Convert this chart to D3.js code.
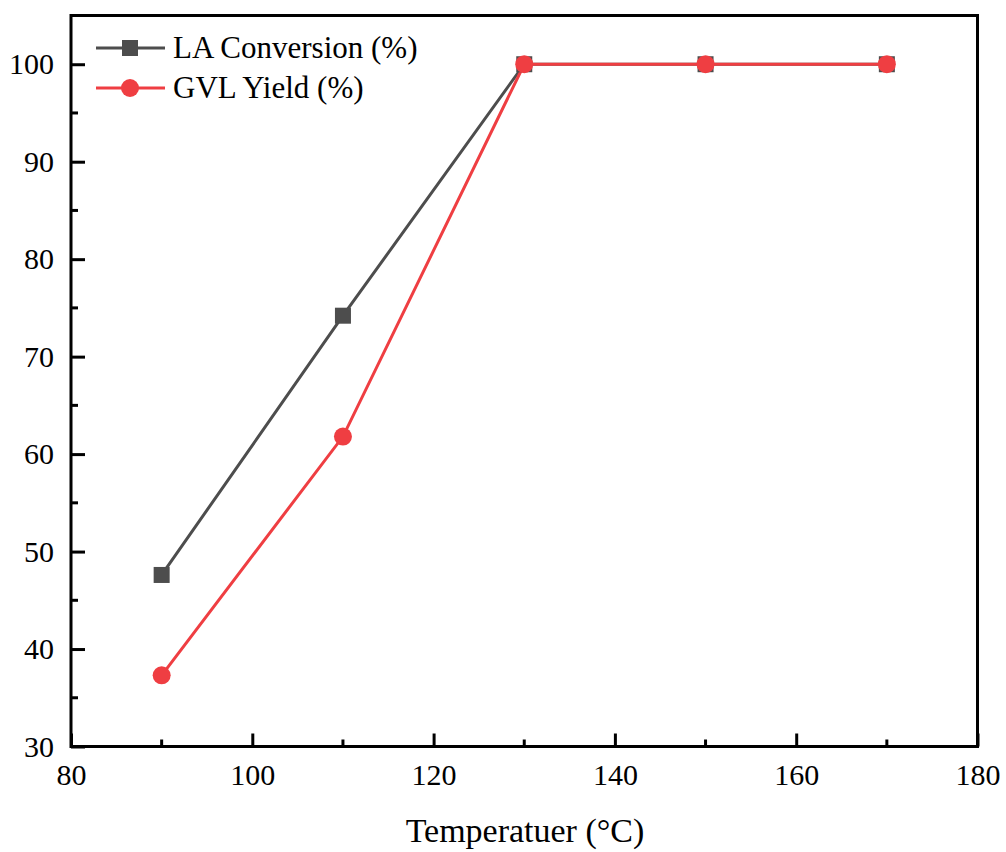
<!DOCTYPE html>
<html><head><meta charset="utf-8">
<script src="https://cdn.jsdelivr.net/npm/d3@7"></script>
<style>body{margin:0;background:#fff}svg{display:block}</style>
</head><body><svg id="c" width="1006" height="852"></svg>
<script>
const temps = [90, 110, 130, 150, 170];
const laConversion = [47.6, 74.2, 100, 100, 100];
const gvlYield = [37.3, 61.8, 100, 100, 100];
const xTicks = [80, 100, 120, 140, 160, 180];
const yTicks = [30, 40, 50, 60, 70, 80, 90, 100];
const seriesNames = ["LA Conversion (%)", "GVL Yield (%)"];
const colors = ["#4d4d4d", "#ef3e42"];
const FONT = "Liberation Serif";

const svg = d3.select("#c");
const L = 71, R = 977.5, T = 15.5, B = 746.5;
const x = d3.scaleLinear().domain([80, 180]).range([L, R]);
const y = d3.scaleLinear().domain([30, 105]).range([B, T]);

svg.append("rect").attr("x", L).attr("y", T).attr("width", R - L).attr("height", B - T)
  .attr("fill", "none").attr("stroke", "#000").attr("stroke-width", 3);

const xAxis = d3.axisBottom(x).tickValues(xTicks).tickSize(-13).tickPadding(17).tickFormat(d3.format("d"));
const gx = svg.append("g").attr("transform", `translate(0,${B})`).call(xAxis);
gx.select(".domain").remove();
gx.selectAll(".tick line").attr("stroke-width", 3);
gx.selectAll(".tick text").style("font-family", FONT).style("font-size", "30px");
const xMinor = d3.range(90, 180, 20);
svg.append("g").selectAll("line").data(xMinor).join("line")
  .attr("x1", d => x(d)).attr("x2", d => x(d)).attr("y1", B).attr("y2", B - 7)
  .attr("stroke", "#000").attr("stroke-width", 3);

const yAxis = d3.axisLeft(y).tickValues(yTicks).tickSize(-14).tickPadding(17).tickFormat(d3.format("d"));
const gy = svg.append("g").attr("transform", `translate(${L},0)`).call(yAxis);
gy.select(".domain").remove();
gy.selectAll(".tick line").attr("stroke-width", 3);
gy.selectAll(".tick text").style("font-family", FONT).style("font-size", "30px");
const yMinor = d3.range(35, 105, 10);
svg.append("g").selectAll("line").data(yMinor).join("line")
  .attr("y1", d => y(d)).attr("y2", d => y(d)).attr("x1", L).attr("x2", L + 7)
  .attr("stroke", "#000").attr("stroke-width", 3);

svg.append("text").attr("x", 525).attr("y", 842).attr("text-anchor", "middle")
  .style("font-family", FONT).style("font-size", "34px").text("Temperatuer (°C)");

const line = d3.line().x(d => x(d[0])).y(d => y(d[1]));
const data = [laConversion, gvlYield].map(v => temps.map((t, i) => [t, v[i]]));

data.forEach((pts, s) => {
  svg.append("path").datum(pts).attr("d", line).attr("fill", "none")
    .attr("stroke", colors[s]).attr("stroke-width", 3);
});
svg.append("g").selectAll("rect").data(data[0]).join("rect")
  .attr("x", d => x(d[0]) - 8).attr("y", d => y(d[1]) - 8).attr("width", 16).attr("height", 16)
  .attr("fill", colors[0]);
svg.append("g").selectAll("circle").data(data[1]).join("circle")
  .attr("cx", d => x(d[0])).attr("cy", d => y(d[1])).attr("r", 9).attr("fill", colors[1]);

const leg = svg.append("g");
seriesNames.forEach((n, i) => {
  const ly = 48 + i * 40;
  leg.append("line").attr("x1", 96).attr("x2", 165).attr("y1", ly).attr("y2", ly)
    .attr("stroke", colors[i]).attr("stroke-width", 3);
  if (i === 0) leg.append("rect").attr("x", 122).attr("y", ly - 8).attr("width", 16).attr("height", 16).attr("fill", colors[0]);
  else leg.append("circle").attr("cx", 130).attr("cy", ly).attr("r", 9).attr("fill", colors[1]);
  leg.append("text").attr("x", 173).attr("y", ly + 10).style("font-family", FONT).style("font-size", "31px").text(n);
});
</script></body></html>
